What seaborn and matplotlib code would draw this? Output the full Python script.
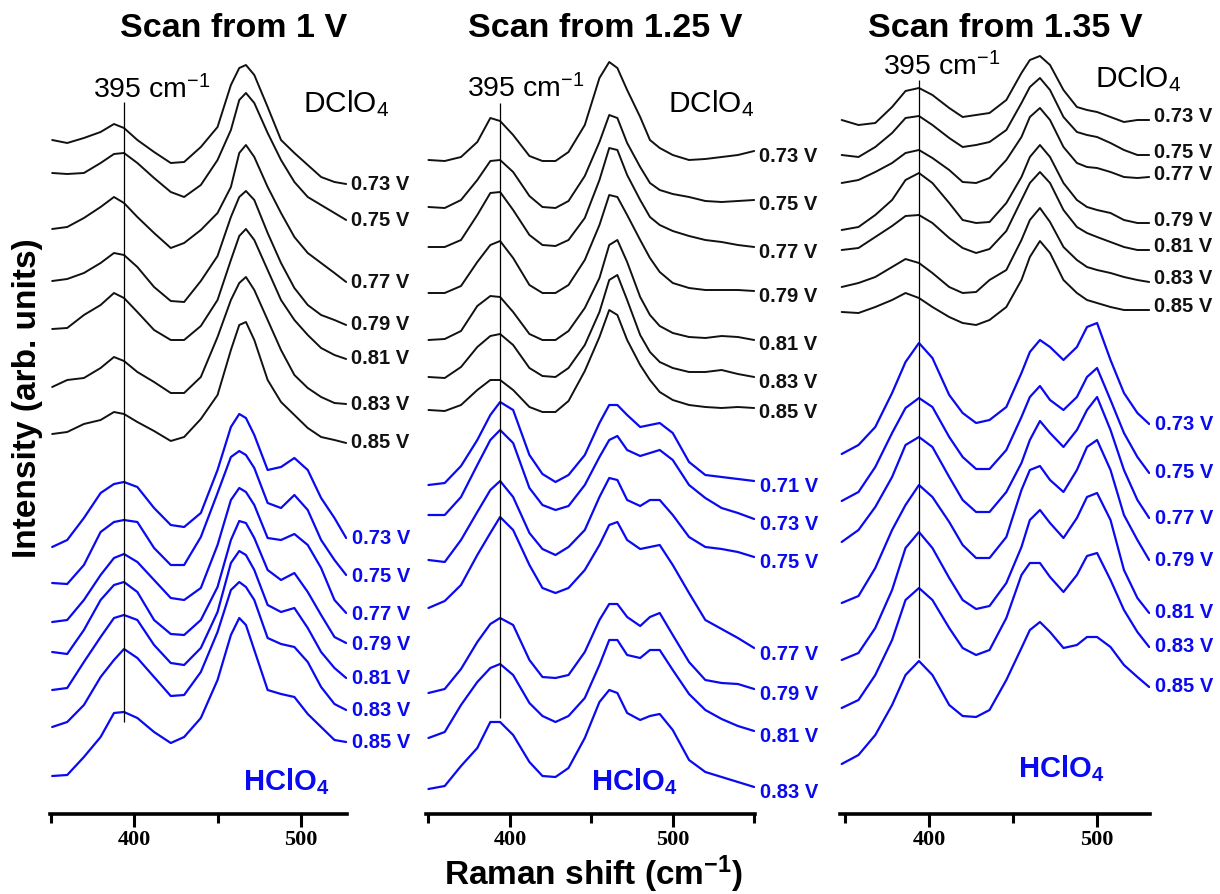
import matplotlib
matplotlib.use("Agg")
import matplotlib.pyplot as plt
import seaborn as sns
from matplotlib.ticker import MultipleLocator

# ---------------- data (intensity in arb. units, stacked as displayed) ----------------
# Panel 1: scan from 1 V
X1 = [351, 360, 370, 380, 388, 394, 402, 412, 422, 430, 440, 450, 458, 463, 467, 472, 480, 488, 496, 504, 512, 520, 527]
P1_D_LABELS = ["0.73 V", "0.75 V", "0.77 V", "0.79 V", "0.81 V", "0.83 V", "0.85 V"]
P1_D = [
    [674, 671, 676, 682, 690, 686, 674, 662, 651, 652, 667, 687, 729, 746, 749, 739, 707, 674, 661, 649, 637, 632, 630],
    [641, 640, 641, 651, 660, 661, 651, 636, 622, 617, 629, 654, 684, 714, 721, 711, 681, 654, 632, 617, 609, 601, 594],
    [585, 587, 596, 607, 617, 611, 597, 581, 566, 571, 584, 601, 627, 661, 669, 657, 627, 601, 577, 561, 551, 541, 532],
    [533, 535, 541, 551, 561, 559, 547, 527, 513, 512, 533, 558, 597, 617, 623, 614, 581, 551, 526, 509, 499, 494, 489],
    [485, 486, 499, 509, 521, 516, 502, 484, 474, 474, 488, 514, 554, 578, 585, 574, 544, 514, 494, 479, 466, 459, 455],
    [427, 434, 436, 446, 457, 453, 442, 432, 421, 421, 437, 477, 514, 531, 537, 524, 494, 464, 439, 426, 417, 411, 410],
    [380, 382, 390, 394, 402, 400, 392, 383, 373, 377, 395, 419, 464, 489, 492, 474, 434, 412, 399, 386, 377, 374, 371],
]
P1_H_LABELS = ["0.73 V", "0.75 V", "0.77 V", "0.79 V", "0.81 V", "0.83 V", "0.85 V"]
P1_H = [
    [267, 274, 296, 321, 330, 332, 327, 306, 289, 287, 301, 344, 387, 400, 396, 379, 344, 347, 356, 344, 316, 296, 276],
    [231, 230, 249, 282, 292, 294, 292, 266, 249, 249, 277, 321, 357, 363, 359, 346, 311, 306, 319, 304, 274, 254, 239],
    [192, 194, 214, 239, 256, 260, 252, 234, 216, 214, 226, 269, 314, 326, 322, 309, 276, 274, 280, 269, 246, 214, 201],
    [162, 160, 184, 214, 229, 232, 222, 194, 180, 179, 194, 227, 274, 293, 291, 276, 244, 234, 241, 222, 199, 177, 171],
    [124, 126, 152, 177, 196, 199, 194, 169, 151, 149, 166, 202, 251, 263, 259, 244, 209, 202, 206, 186, 162, 146, 136],
    [87, 92, 109, 137, 154, 165, 156, 137, 118, 119, 142, 182, 224, 232, 227, 214, 176, 170, 167, 152, 127, 110, 104],
    [38, 39, 57, 77, 101, 102, 96, 82, 71, 77, 96, 134, 179, 196, 189, 164, 124, 120, 117, 100, 87, 74, 72],
]

# Panel 2: scan from 1.25 V
X2 = [350, 360, 370, 380, 388, 394, 402, 412, 420, 428, 436, 446, 455, 461, 466, 472, 480, 486, 492, 500, 510, 520, 530, 540, 550]
P2_D_LABELS = ["0.73 V", "0.75 V", "0.77 V", "0.79 V", "0.81 V", "0.83 V", "0.85 V"]
P2_D = [
    [654, 653, 657, 672, 696, 693, 679, 658, 653, 653, 662, 689, 736, 752, 746, 724, 697, 674, 666, 659, 654, 655, 657, 659, 663],
    [607, 606, 614, 634, 653, 654, 642, 618, 607, 606, 613, 638, 672, 699, 696, 671, 647, 631, 624, 620, 617, 613, 612, 613, 614],
    [567, 567, 574, 599, 621, 622, 604, 579, 569, 568, 574, 596, 634, 666, 664, 639, 614, 597, 589, 583, 578, 574, 572, 569, 567],
    [521, 521, 528, 552, 569, 573, 556, 529, 521, 521, 529, 554, 589, 619, 617, 599, 574, 556, 542, 531, 526, 524, 524, 524, 523],
    [474, 475, 483, 508, 518, 517, 502, 480, 474, 474, 483, 506, 536, 569, 574, 552, 517, 499, 488, 481, 477, 476, 478, 477, 474],
    [437, 436, 447, 467, 478, 480, 469, 446, 438, 437, 446, 469, 502, 534, 539, 514, 479, 462, 452, 446, 442, 442, 444, 440, 437],
    [404, 403, 409, 424, 434, 434, 424, 407, 402, 402, 413, 443, 477, 504, 499, 474, 449, 434, 422, 414, 409, 407, 406, 407, 406],
]
P2_H_LABELS = ["0.71 V", "0.73 V", "0.75 V", "0.77 V", "0.79 V", "0.81 V", "0.83 V"]
P2_H = [
    [329, 331, 348, 374, 399, 412, 404, 359, 340, 332, 339, 359, 391, 409, 409, 399, 387, 389, 391, 381, 352, 339, 337, 335, 333],
    [299, 299, 317, 349, 374, 384, 371, 326, 309, 304, 308, 329, 357, 374, 378, 364, 358, 361, 364, 354, 329, 316, 306, 301, 295],
    [254, 252, 274, 302, 324, 333, 317, 281, 265, 259, 267, 284, 317, 336, 334, 314, 308, 314, 314, 299, 277, 267, 265, 262, 257],
    [206, 213, 229, 259, 281, 297, 284, 249, 226, 221, 226, 244, 269, 289, 292, 274, 265, 267, 269, 249, 221, 194, 185, 176, 166],
    [121, 125, 145, 172, 190, 196, 189, 154, 137, 136, 139, 162, 194, 210, 210, 197, 188, 197, 201, 179, 152, 134, 131, 130, 125],
    [76, 82, 109, 132, 146, 150, 139, 111, 98, 92, 98, 116, 149, 174, 174, 159, 156, 164, 164, 144, 120, 104, 95, 88, 83],
    [25, 28, 48, 66, 92, 92, 79, 52, 38, 37, 46, 76, 112, 124, 121, 101, 94, 98, 100, 84, 54, 42, 37, 32, 27],
]

# Panel 3: scan from 1.35 V
X3 = [348, 358, 368, 378, 386, 394, 402, 412, 420, 428, 436, 446, 455, 460, 466, 472, 480, 488, 494, 500, 508, 516, 524, 531]
P3_D_LABELS = ["0.73 V", "0.75 V", "0.77 V", "0.79 V", "0.81 V", "0.83 V", "0.85 V"]
P3_D = [
    [694, 689, 691, 707, 723, 726, 719, 706, 697, 699, 701, 714, 741, 754, 758, 749, 724, 707, 704, 702, 697, 692, 694, 694],
    [659, 657, 667, 681, 696, 698, 689, 676, 667, 669, 672, 684, 711, 727, 736, 724, 697, 682, 679, 677, 671, 664, 659, 659],
    [631, 634, 642, 651, 661, 664, 656, 644, 632, 631, 636, 654, 677, 697, 706, 694, 667, 651, 647, 646, 642, 637, 636, 637],
    [584, 587, 599, 614, 634, 641, 631, 611, 594, 591, 592, 611, 637, 657, 669, 657, 631, 614, 607, 604, 601, 594, 591, 591],
    [564, 566, 577, 588, 598, 599, 591, 576, 566, 561, 565, 583, 614, 631, 642, 631, 604, 587, 581, 577, 572, 567, 564, 564],
    [527, 531, 537, 547, 555, 551, 541, 527, 521, 522, 534, 544, 574, 594, 606, 592, 567, 554, 547, 544, 541, 537, 534, 532],
    [502, 501, 507, 514, 521, 516, 507, 497, 491, 489, 494, 507, 534, 557, 573, 561, 534, 521, 514, 511, 507, 504, 504, 504],
]
P3_H_LABELS = ["0.73 V", "0.75 V", "0.77 V", "0.79 V", "0.81 V", "0.83 V", "0.85 V"]
P3_H = [
    [360, 369, 387, 421, 452, 471, 456, 419, 401, 391, 394, 407, 441, 462, 474, 467, 454, 467, 487, 491, 454, 421, 401, 390],
    [313, 322, 347, 381, 406, 416, 407, 377, 357, 345, 345, 364, 397, 417, 428, 414, 404, 417, 437, 446, 414, 381, 357, 341],
    [272, 284, 307, 337, 369, 377, 367, 337, 314, 302, 302, 322, 351, 374, 393, 381, 367, 384, 404, 417, 384, 344, 314, 296],
    [211, 218, 246, 284, 309, 329, 317, 292, 269, 256, 256, 277, 324, 344, 348, 334, 322, 344, 367, 374, 344, 299, 274, 254],
    [154, 161, 186, 224, 266, 282, 266, 236, 214, 205, 208, 231, 267, 294, 304, 291, 276, 296, 317, 321, 294, 244, 216, 201],
    [106, 114, 139, 174, 214, 226, 214, 186, 166, 159, 164, 196, 239, 251, 251, 237, 222, 239, 258, 261, 234, 204, 182, 167],
    [50, 59, 79, 109, 139, 153, 139, 109, 98, 97, 104, 134, 166, 184, 192, 182, 166, 169, 177, 177, 167, 149, 137, 127],
]

TITLES = ["Scan from 1 V", "Scan from 1.25 V", "Scan from 1.35 V"]
XTICKS = [400, 500]
XTICK_LABELS = ["400", "500"]
MARK_X = 394  # reference line (395 cm-1 band)

# ---------------- style ----------------
sns.set_theme(style="ticks")
plt.rcParams['font.family'] = ['Liberation Sans', 'DejaVu Sans']
plt.rcParams['mathtext.fontset'] = 'custom'
plt.rcParams['mathtext.rm'] = 'Liberation Sans'
plt.rcParams['mathtext.it'] = 'Liberation Sans:italic'
plt.rcParams['mathtext.bf'] = 'Liberation Sans:bold'

BLACK = "#111111"
BLUE = "#0a0af0"
W, H = 1220, 894

fig = plt.figure(figsize=(W / 100, H / 100), dpi=100)
fig.patch.set_facecolor("white")

panels = [
    dict(x=X1, d=P1_D, dl=P1_D_LABELS, h=P1_H, hl=P1_H_LABELS, left=50, width=297, xlim=(349.7, 527.5),
         line=(92, 712), mark_txt=(375.4, 716), dtxt=(501, 702), htxt=(465, 24), dy_d=0, dy_h=-1,
         title_x=234),
    dict(x=X2, d=P2_D, dl=P2_D_LABELS, h=P2_H, hl=P2_H_LABELS, left=426, width=329, xlim=(348.5, 550.5),
         line=(96, 711), mark_txt=(373.6, 717), dtxt=(497, 702), htxt=(450, 24), dy_d=-5, dy_h=-6,
         title_x=605),
    dict(x=X3, d=P3_D, dl=P3_D_LABELS, h=P3_H, hl=P3_H_LABELS, left=840, width=310, xlim=(347, 531.5),
         line=(156, 734), mark_txt=(372.6, 739), dtxt=(499, 727), htxt=(453, 37), dy_d=3, dy_h=0,
         title_x=1005),
]

YMAX = 774
for i, p in enumerate(panels):
    ax = fig.add_axes([p['left'] / W, 80 / H, p['width'] / W, YMAX / H])
    ax.set_facecolor("white")

    for vals, lab in zip(p['d'], p['dl']):
        sns.lineplot(x=p['x'], y=vals, ax=ax, color=BLACK, linewidth=1.4, sort=False, estimator=None,
                     solid_joinstyle='round', solid_capstyle='round')
        ax.annotate(lab, xy=(p['x'][-1], vals[-1]), xytext=(5, p['dy_d']), textcoords='offset pixels',
                    ha='left', va='center', fontsize=14.5, fontweight='bold', color=BLACK,
                    annotation_clip=False)
    for vals, lab in zip(p['h'], p['hl']):
        sns.lineplot(x=p['x'], y=vals, ax=ax, color=BLUE, linewidth=1.6, sort=False, estimator=None,
                     solid_joinstyle='round', solid_capstyle='round')
        ax.annotate(lab, xy=(p['x'][-1], vals[-1]), xytext=(6, p['dy_h']), textcoords='offset pixels',
                    ha='left', va='center', fontsize=14.5, fontweight='bold', color=BLUE,
                    annotation_clip=False)

    ax.set_xlim(*p['xlim'])
    ax.set_ylim(0, YMAX)

    ax.vlines(MARK_X, p['line'][0], p['line'][1], color='black', linewidth=0.9)
    ax.text(p['mark_txt'][0], p['mark_txt'][1], r"395 cm$^{-1}$", fontsize=20.5, color='black',
            ha='left', va='baseline')
    ax.text(p['dtxt'][0], p['dtxt'][1], r"DClO$_4$", fontsize=21.5, color='black',
            ha='left', va='baseline')
    ax.text(p['htxt'][0], p['htxt'][1], r"HClO$_\mathbf{4}$", fontsize=21, fontweight='bold',
            color=BLUE, ha='left', va='baseline')

    for s in ['left', 'right', 'top']:
        ax.spines[s].set_visible(False)
    ax.spines['bottom'].set_linewidth(2.6)
    ax.spines['bottom'].set_color('black')
    ax.set_yticks([])
    ax.set_xticks(XTICKS, labels=XTICK_LABELS, fontsize=16, fontweight='bold',
                  fontfamily='Liberation Serif', color='black')
    ax.xaxis.set_minor_locator(MultipleLocator(50))
    ax.tick_params(axis='x', which='major', direction='out', length=9, width=2.2, color='black',
                   pad=2.5, bottom=True)
    ax.tick_params(axis='x', which='minor', direction='out', length=6.5, width=2.2, color='black',
                   bottom=True)
    ax.set_xlabel("")
    ax.set_ylabel("")

    fig.text(p['title_x'] / W, 1 - 37 / H, TITLES[i], ha='center', va='baseline',
             fontsize=24.5, fontweight='bold', color='black')

fig.text(28 / W, 1 - 398 / H, "Intensity (arb. units)", rotation=90, ha='center', va='center',
         fontsize=24, fontweight='bold', color='black')
fig.text(593 / W, 1 - 885 / H, r"Raman shift (cm$^{\mathbf{-1}}$)", ha='center', va='baseline',
         fontsize=24, fontweight='bold', color='black')

fig.savefig("out.png", dpi=100, facecolor="white")
